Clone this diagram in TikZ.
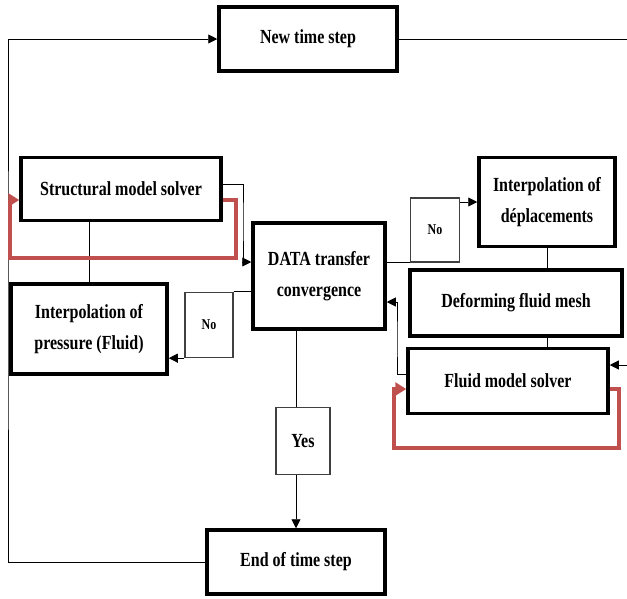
\documentclass[tikz,border=0pt]{standalone}
\usepackage{fontspec}
\setmainfont{Liberation Serif}[FakeStretch=0.8]
\usetikzlibrary{positioning, arrows.meta}
\definecolor{loopred}{RGB}{192,80,77}

\begin{document}
\begin{tikzpicture}[
    x=1pt, y=-1pt,
    every node/.style={align=center, font=\fontsize{20}{31}\selectfont\bfseries, inner sep=0pt},
    procbox/.style={draw=black, line width=3.5pt, fill=white},
    answer/.style={draw=black!75, line width=1.3pt, fill=white},
    arrow/.style={-{Triangle[length=9pt, width=9pt]}, line width=0.9pt},
    link/.style={line width=0.9pt},
    redloop/.style={-{Triangle[length=11pt, width=13pt]}, draw=loopred, line width=3.6pt}
]
\useasboundingbox (0,0) rectangle (627,598);

% Time step boxes
\node[procbox, minimum width=178pt, minimum height=64pt] (newstep) at (308,39) {New time step};
\node[procbox, minimum width=178pt, minimum height=64pt] (endstep) at (296,562) {End of time step};

% Structural side
\node[procbox, minimum width=200pt, minimum height=63pt] (structural) at (121,189) {Structural model solver};
\node[procbox, minimum width=156pt, minimum height=90pt] (pressure) at (89,329) {Interpolation of\\pressure (Fluid)};

% Coupling check
\node[procbox, minimum width=132pt, minimum height=106pt] (data) at (319,276) {DATA transfer\\convergence};
\node[answer, minimum width=48pt, minimum height=65pt, font=\fontsize{15}{18}\selectfont\bfseries] (noleft) at (209,325) {No};
\node[answer, minimum width=49pt, minimum height=64pt, font=\fontsize{15}{18}\selectfont\bfseries] (noright) at (435,230) {No};
\node[answer, minimum width=54pt, minimum height=67pt] (yes) at (303,441) {Yes};

% Fluid side
\node[procbox, minimum width=136pt, minimum height=89pt] (deplac) at (547,202) {Interpolation of\\déplacements};
\node[procbox, minimum width=212pt, minimum height=66pt] (deform) at (516,303) {Deforming fluid mesh};
\node[procbox, minimum width=200pt, minimum height=65pt] (fluid) at (508,381) {Fluid model solver};

% Rails and corners
\coordinate (leftrail) at (8,300);
\coordinate (rightrail) at (640,200);
\coordinate (sjoin) at (243,220);
\coordinate (fjoin) at (397,340);
\coordinate (sloopR) at (236,258);
\coordinate (sloopL) at (10,258);
\coordinate (floopR) at (619,448);
\coordinate (floopL) at (394,448);

% Time loop
\draw[arrow] (endstep.west) -| (leftrail) |- (newstep.west);
\draw[arrow] (newstep.east) -| (rightrail) |- ([yshift=16pt]fluid.east);

% Structural connections
\draw[arrow] ([yshift=5pt]structural.east) -| (sjoin) |- ([yshift=14pt]data.west);
\draw[link] (pressure.north) -- (pressure.north |- structural.south);
\draw[redloop] ([yshift=-11pt]structural.east) -| (sloopR) -- (sloopL) |- ([yshift=-11pt]structural.west);

% Convergence branches
\draw[link] (noleft.north east) -- (noleft.north east -| data.west);
\draw[arrow] (noleft.south west) -- (noleft.south west -| pressure.east);
\draw[link] (noright.south west) -- (noright.south west -| data.east);
\draw[arrow] (noright.north east |- deplac.west) -- (deplac.west);
\draw[link] (data.south -| endstep.north) -- (yes.north -| endstep.north);
\draw[arrow] (yes.south -| endstep.north) -- (endstep.north);

% Fluid connections
\draw[link] (deplac.south) -- (deplac.south |- deform.north);
\draw[link] (deplac.south |- deform.south) -- (deplac.south |- fluid.north);
\draw[arrow] ([yshift=7pt]fluid.west) -| (fjoin) |- ([yshift=-26pt]data.east);
\draw[redloop] ([yshift=-8pt]fluid.east) -| (floopR) -- (floopL) |- ([yshift=-8pt]fluid.west);

\end{tikzpicture}
\end{document}
